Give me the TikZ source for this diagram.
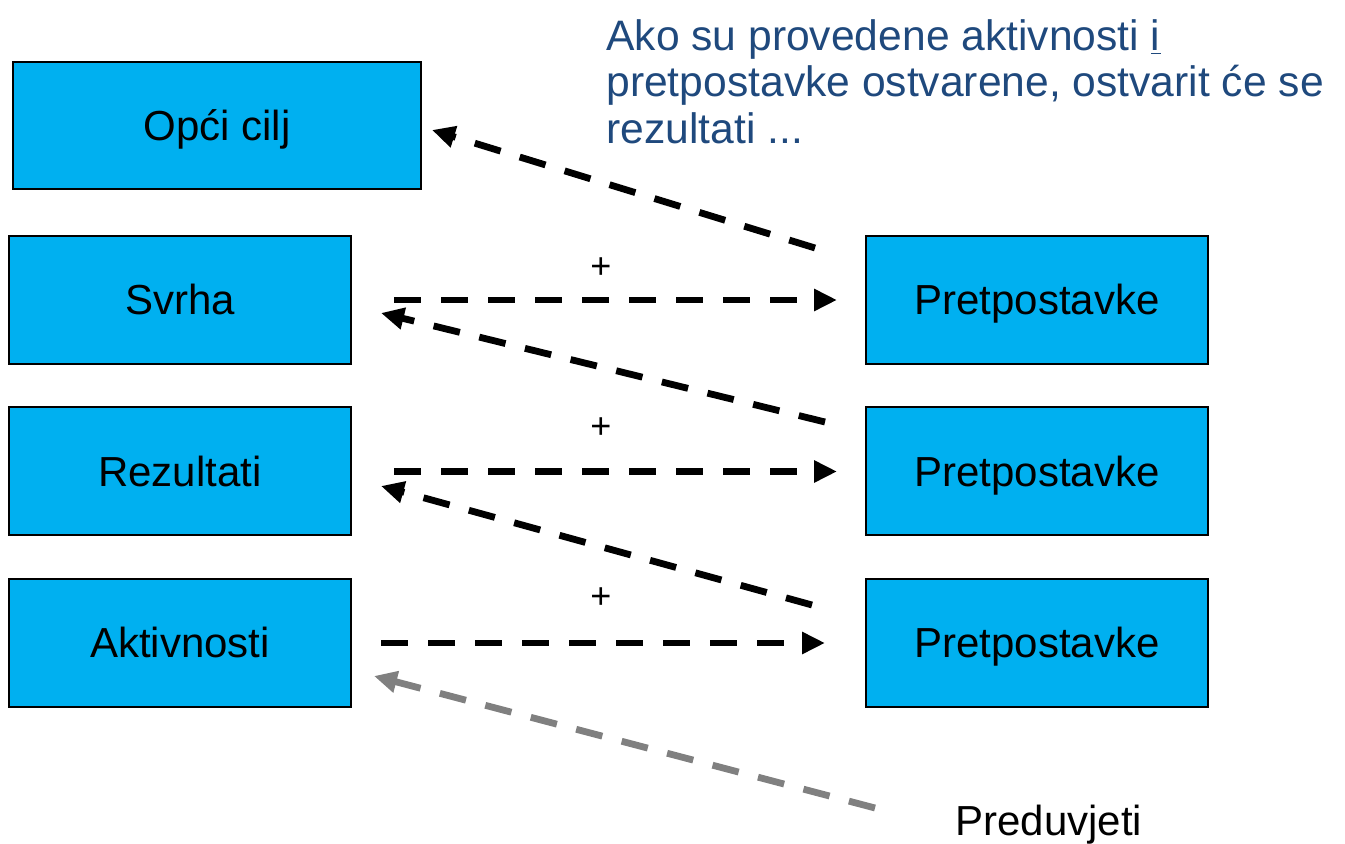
\documentclass[tikz,border=0pt]{standalone}
\usepackage{fontspec}
\setmainfont{Liberation Sans}
\usetikzlibrary{arrows.meta,calc}
\definecolor{boxblue}{RGB}{0,176,240}
\definecolor{notecol}{RGB}{31,73,125}
\definecolor{graycol}{RGB}{128,128,128}
\begin{document}
\begin{tikzpicture}[x=0.5pt,y=-0.5pt,
  box/.style={draw=black, line width=1pt, fill=boxblue, inner sep=0pt, text height=15pt, text depth=0pt, font=\fontsize{21}{25}\selectfont},
  smallbox/.style={box, minimum width=171pt, minimum height=64pt},
  dasharrow/.style={line width=3.4pt, dash pattern=on 13.5pt off 10pt, -{Triangle[length=11.5pt,width=10.5pt]}},
  plus/.style={font=\fontsize{18}{20}\selectfont, inner sep=0pt},
  label/.style={font=\fontsize{21.3}{23.25}\selectfont, inner sep=0pt}]
\useasboundingbox (0,0) rectangle (1345,844);
\node[box, minimum width=204pt, minimum height=63.5pt] (opci) at (217,125.5) {Opći cilj};
\node[smallbox] (svrha) at (180,300) {Svrha};
\node[smallbox] (rez) at (180,471.5) {Rezultati};
\node[smallbox] (akt) at (180,643) {Aktivnosti};
\node[smallbox] (pret1) at (1037,300) {Pretpostavke};
\node[smallbox] (pret2) at (1037,471.5) {Pretpostavke};
\node[smallbox] (pret3) at (1037,643) {Pretpostavke};
\node[label, anchor=north west, align=left, text=notecol] (note) at (606,19)
  {Ako su provedene aktivnosti \underline{i}\\pretpostavke ostvarene, ostvarit će se\\rezultati ...};
\node[label, anchor=base west, font=\fontsize{21}{23}\selectfont] (pre) at (955,835) {Preduvjeti};
\node[plus] (p1) at (601,268) {+};
\node[plus] (p2) at (601,428) {+};
\node[plus] (p3) at (601,598) {+};
\coordinate (d1s) at (815,248); \coordinate (d1e) at (432,130);
\coordinate (d2s) at (825,422); \coordinate (d2e) at (381,313);
\coordinate (d3s) at (812,605); \coordinate (d3e) at (381,486);
\coordinate (gs) at (875,808); \coordinate (ge) at (374,676);
\draw[dasharrow] (d1s) -- (d1e);
\draw[dasharrow] (d2s) -- (d2e);
\draw[dasharrow] (d3s) -- (d3e);
\draw[dasharrow, graycol] (gs) -- (ge);
\draw[dasharrow, shorten <=21pt, shorten >=14pt] (svrha.east) -- (pret1.west);
\draw[dasharrow, shorten <=21pt, shorten >=14pt] (rez.east) -- (pret2.west);
\draw[dasharrow, shorten <=14.5pt, shorten >=20pt] (akt.east) -- (pret3.west);
\end{tikzpicture}
\end{document}
